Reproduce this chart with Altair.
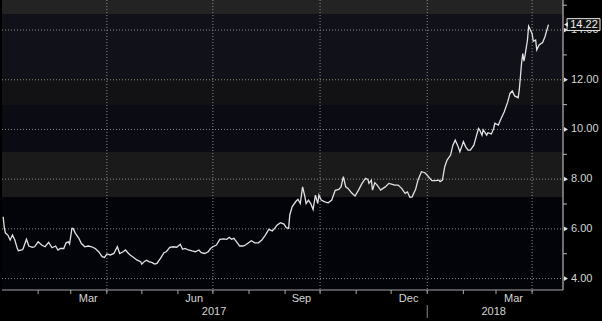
import altair as alt
import pandas as pd

# ---------------- data ----------------
BASE_DATE = "2017-01-01"

# days after BASE_DATE
days = [
    1, 2, 3, 5, 7, 9, 11, 13, 14, 17,
    18, 21, 23, 26, 28, 31, 34, 37, 40, 43,
    46, 48, 50, 53, 55, 57, 58, 60, 61, 63,
    66, 68, 71, 74, 77, 80, 83, 84, 86, 88,
    90, 93, 96, 99, 101, 104, 106, 108, 110, 113,
    116, 119, 120, 122, 124, 126, 129, 131, 133, 136,
    139, 141, 144, 147, 150, 153, 155, 157, 160, 163,
    166, 169, 171, 174, 177, 179, 181, 184, 187, 190,
    193, 195, 197, 199, 202, 204, 207, 209, 211, 214,
    217, 220, 223, 226, 229, 232, 234, 236, 239, 242,
    244, 246, 247, 249, 252, 254, 256, 258, 260, 261,
    263, 265, 267, 269, 271, 272, 274, 277, 280, 283,
    286, 289, 291, 293, 295, 297, 300, 303, 306, 309,
    312, 314, 315, 317, 318, 320, 322, 325, 327, 329,
    332, 335, 337, 340, 343, 346, 348, 350, 352, 355,
    357, 360, 363, 366, 369, 372, 375, 376, 378, 380,
    382, 385, 387, 389, 391, 393, 395, 396, 398, 400,
    402, 405, 407, 409, 410, 412, 413, 416, 417, 420,
    422, 423, 426, 428, 431, 434, 436, 438, 440, 443,
    444, 446, 447, 448, 449, 451, 452, 455, 456, 458,
    459, 461, 464, 466, 469,
]
values = [
    6.49, 6.03, 5.83, 5.75, 5.55, 5.75, 5.55, 5.23, 5.12, 5.15,
    5.19, 5.58, 5.31, 5.26, 5.28, 5.48, 5.35, 5.28, 5.46, 5.24,
    5.31, 5.15, 5.21, 5.21, 5.44, 5.48, 5.39, 6.02, 6.02, 5.82,
    5.62, 5.42, 5.28, 5.31, 5.28, 5.21, 5.08, 5.01, 4.88, 4.85,
    4.99, 4.95, 5.01, 5.28, 5.01, 5.08, 5.15, 5.04, 4.95, 4.85,
    4.74, 4.68, 4.58, 4.68, 4.74, 4.68, 4.64, 4.58, 4.61, 4.81,
    5.04, 5.08, 5.26, 5.28, 5.26, 5.38, 5.18, 5.21, 5.15, 5.11,
    5.08, 5.15, 5.04, 5.01, 5.08, 5.21, 5.28, 5.35, 5.58, 5.60,
    5.58, 5.66, 5.58, 5.62, 5.44, 5.31, 5.31, 5.35, 5.42, 5.52,
    5.44, 5.44, 5.55, 5.75, 5.98, 5.92, 6.02, 6.15, 6.25, 6.19,
    6.05, 6.02, 6.56, 6.89, 7.09, 7.19, 7.02, 7.69, 7.29, 7.02,
    7.16, 7.02, 6.78, 7.36, 7.02, 7.36, 7.16, 7.09, 7.05, 7.16,
    7.55, 7.59, 7.69, 8.10, 7.69, 7.63, 7.45, 7.32, 7.56, 7.83,
    8.03, 7.99, 7.83, 7.96, 7.56, 7.86, 7.76, 7.56, 7.63, 7.69,
    7.83, 7.79, 7.76, 7.76, 7.63, 7.43, 7.49, 7.27, 7.29, 7.59,
    7.96, 8.30, 8.26, 8.10, 7.94, 7.94, 7.96, 7.90, 7.96, 8.50,
    8.77, 8.97, 9.37, 9.57, 9.37, 9.10, 9.37, 9.51, 9.30, 9.17,
    9.17, 9.37, 9.71, 10.04, 9.98, 9.77, 9.98, 9.77, 9.87, 9.82,
    10.04, 10.25, 10.18, 10.40, 10.70, 11.10, 11.45, 11.55, 11.35, 11.28,
    11.60, 12.70, 13.05, 12.75, 13.00, 13.60, 14.15, 13.85, 13.55, 13.60,
    13.20, 13.40, 13.50, 13.73, 14.22,
]

y_major = [4, 6, 8, 10, 12, 14]
y_major_labels = ["4.00", "6.00", "8.00", "10.00", "12.00", "14.00"]
y_minor = [5, 7, 9, 11, 13, 15]

month_tick_dates = [
    "2017-02-01", "2017-03-01", "2017-04-01", "2017-05-01", "2017-06-01",
    "2017-07-01", "2017-08-01", "2017-09-01", "2017-10-01", "2017-11-01",
    "2017-12-01", "2018-01-01", "2018-02-01", "2018-03-01", "2018-04-01",
]
grid_dates = ["2017-04-01", "2017-07-01", "2017-10-01", "2018-01-01", "2018-04-01"]
month_labels = ["Mar", "Jun", "Sep", "Dec", "Mar"]
month_label_dates = ["2017-03-16", "2017-06-15", "2017-09-15", "2017-12-16", "2018-03-16"]
year_labels = ["2017", "2018"]
year_label_dates = ["2017-07-02", "2018-02-27"]
year_break = ["2018-01-01"]

# background band edges (value units) and colours
band_lo = [3.0, 7.28, 9.09, 10.98, 12.07, 14.64]
band_hi = [7.28, 9.09, 10.98, 12.07, 14.64, 16.0]
band_col = ["#03030a", "#1a1a1a", "#0b0b14", "#121214", "#101119", "#232323"]

last_label = "14.22"
last_value = 14.22

# ---------------- layout ----------------
W, H = 561, 290
FONT = "Liberation Sans"
TXT = "#d6d6d6"

base_dt = pd.Timestamp(BASE_DATE)
line_df = pd.DataFrame({
    "date": [base_dt + pd.Timedelta(days=d) for d in days],
    "value": values,
})

xs = alt.Scale(domain=[alt.DateTime(year=2017, month=1, date=1),
                       alt.DateTime(year=2018, month=4, date=27, hours=12)])
ys = alt.Scale(domain=[3.54, 15.21], nice=False, zero=False)

def X(field):
    return alt.X(field, type="temporal", scale=xs, axis=None)

def Y(field):
    return alt.Y(field, type="quantitative", scale=ys, axis=None)

bands = alt.Chart(pd.DataFrame({"lo": band_lo, "hi": band_hi, "c": band_col})).mark_rect(clip=True).encode(
    x=alt.value(0), x2=alt.value(W), y=Y("lo"), y2="hi", color=alt.Color("c:N", scale=None)
)

hgrid = alt.Chart(pd.DataFrame({"v": y_major})).mark_rule(
    color="#8c8c8c", strokeDash=[1, 2], strokeWidth=1
).encode(y=Y("v"), x=alt.value(0), x2=alt.value(W))

vgrid = alt.Chart(pd.DataFrame({"d": pd.to_datetime(grid_dates)})).mark_rule(
    color="#8c8c8c", strokeDash=[1, 2], strokeWidth=1
).encode(x=X("d"), y=alt.value(0), y2=alt.value(H + 4))

line = alt.Chart(line_df).mark_line(color="#e2e2e2", strokeWidth=1.3, interpolate="linear").encode(
    x=X("date"), y=Y("value")
)

bottom_axis = alt.Chart(pd.DataFrame({"a": [0]})).mark_rule(color="#a8a8a8", strokeWidth=1.2).encode(
    x=alt.value(0), x2=alt.value(W), y=alt.value(H)
)
right_axis = alt.Chart(pd.DataFrame({"a": [0]})).mark_rule(color="#b8b8b8", strokeWidth=1.2).encode(
    x=alt.value(W), y=alt.value(0), y2=alt.value(H)
)

mticks = alt.Chart(pd.DataFrame({"d": pd.to_datetime(month_tick_dates)})).mark_rule(
    color="#a8a8a8", strokeWidth=1
).encode(x=X("d"), y=alt.value(H), y2=alt.value(H + 4))

mlabels = alt.Chart(pd.DataFrame({"d": pd.to_datetime(month_label_dates), "t": month_labels})).mark_text(
    font=FONT, fontSize=11, color=TXT, align="center", baseline="middle"
).encode(x=X("d"), y=alt.value(H + 9), text="t:N")

ylabels_year = alt.Chart(pd.DataFrame({"d": pd.to_datetime(year_label_dates), "t": year_labels})).mark_text(
    font=FONT, fontSize=11, color=TXT, align="center", baseline="middle"
).encode(x=X("d"), y=alt.value(H + 22), text="t:N")

ybreak = alt.Chart(pd.DataFrame({"d": pd.to_datetime(year_break)})).mark_rule(
    color="#8a8a8a", strokeWidth=1
).encode(x=X("d"), y=alt.value(H + 15), y2=alt.value(H + 28))

yminor = alt.Chart(pd.DataFrame({"v": y_minor})).mark_rule(color="#b8b8b8", strokeWidth=1).encode(
    y=Y("v"), x=alt.value(W), x2=alt.value(W + 4)
)

ytri = alt.Chart(pd.DataFrame({"v": y_major})).mark_point(
    shape="triangle-right", filled=True, color="#e0e0e0", size=22, opacity=1
).encode(y=Y("v"), x=alt.value(W + 3))

ylab = alt.Chart(pd.DataFrame({"v": y_major, "t": y_major_labels})).mark_text(
    font=FONT, fontSize=11, color=TXT, align="left", baseline="middle"
).encode(y=Y("v"), x=alt.value(W + 8), text="t:N")

call_df = pd.DataFrame({"v": [last_value], "lo": [last_value - 0.24], "hi": [last_value + 0.24], "t": [last_label]})
call_box = alt.Chart(call_df).mark_rect(fill="#101010", stroke="#e8e8e8", strokeWidth=1).encode(
    x=alt.value(W + 4), x2=alt.value(W + 37), y=Y("lo"), y2="hi"
)
call_tri = alt.Chart(call_df).mark_point(
    shape="triangle-left", filled=True, color="#e8e8e8", size=20, opacity=1
).encode(y=Y("v"), x=alt.value(W + 3))
call_txt = alt.Chart(call_df).mark_text(
    font=FONT, fontSize=11, color="#f0f0f0", align="center", baseline="middle"
).encode(y=Y("v"), x=alt.value(W + 21), text="t:N")

chart = alt.layer(
    bands, hgrid, vgrid, line, bottom_axis, right_axis, mticks, mlabels,
    ylabels_year, ybreak, yminor, ytri, ylab, call_box, call_tri, call_txt
).properties(
    width=W, height=H,
    autosize=alt.AutoSizeParams(type="none"),
    padding={"left": 2, "top": 0, "right": 39, "bottom": 31},
    background="#000000",
).configure_view(stroke=None)

chart.save("out.html", embed_options={"renderer": "svg", "actions": False})
